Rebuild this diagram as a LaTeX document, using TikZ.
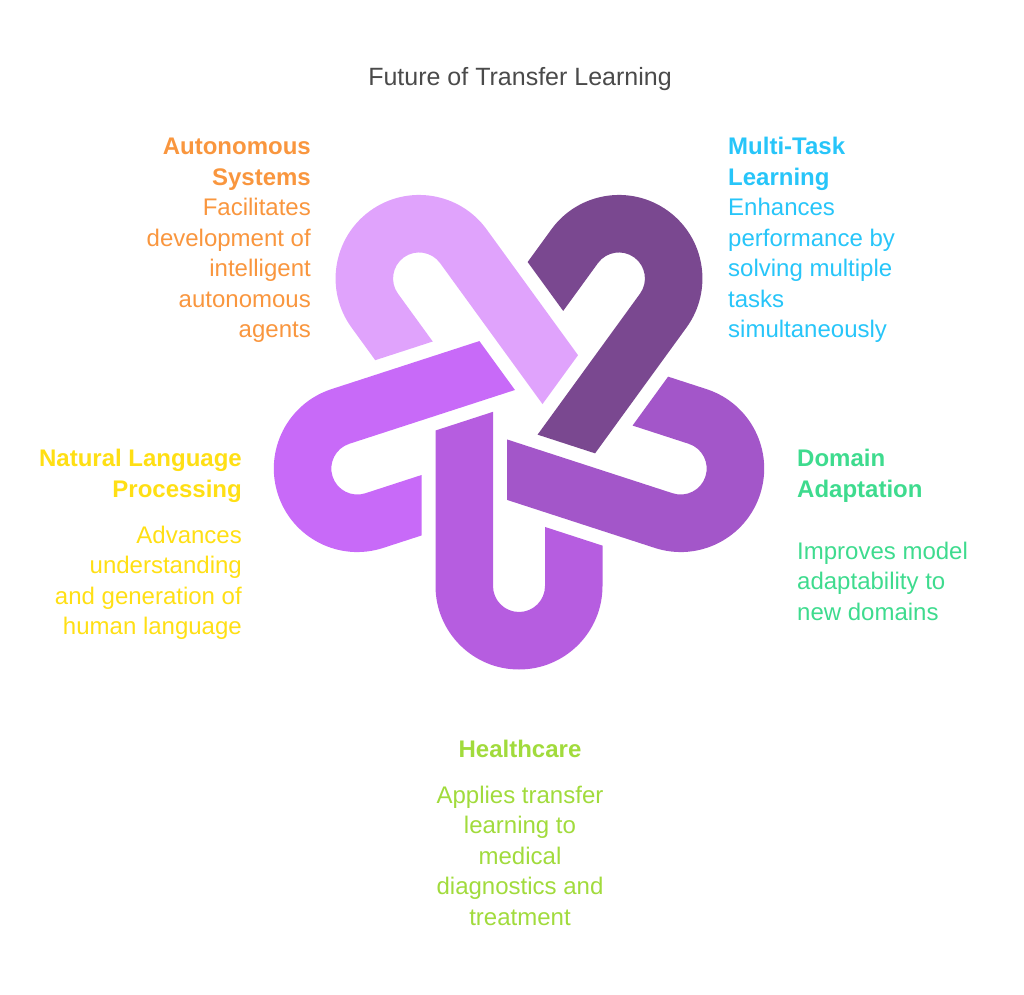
\documentclass[tikz,border=0pt]{standalone}
\usepackage{fontspec}
\setmainfont{Liberation Sans}
\usepackage{tikz}

\definecolor{HookA}{HTML}{B65DE0}
\definecolor{HookB}{HTML}{A356C9}
\definecolor{HookC}{HTML}{7A4890}
\definecolor{HookD}{HTML}{E0A3FC}
\definecolor{HookE}{HTML}{C86AF8}
\definecolor{TitleGray}{HTML}{4A4A4A}
\definecolor{AutoOrange}{HTML}{F9963E}
\definecolor{TaskCyan}{HTML}{27C5F9}
\definecolor{LangYellow}{HTML}{FFDF14}
\definecolor{DomGreen}{HTML}{3EDB8E}
\definecolor{HealthLime}{HTML}{A1DB3C}

\begin{document}
\begin{tikzpicture}[x=1pt,y=1pt]
		\tikzstyle{HeadStyle}=[inner sep=0pt,font=\fontsize{24}{30.5}\selectfont\bfseries]
		\tikzstyle{TextStyle}=[inner sep=0pt,font=\fontsize{24}{30.5}\selectfont]
		\useasboundingbox (0,0) rectangle (1024,994);
		% hook sizes: outer and inner radius, distance from centre, gap
		\def\Ro{83.5}\def\Ri{26}\def\Rd{170}\def\Gap{14}
		\foreach \ang/\col in {0/HookA,72/HookB,144/HookC,216/HookD,288/HookE}
		{
			\begin{scope}[shift={(519,578)},rotate=\ang]
				\fill[\col] ({-\Ro},{(-0.30902*\Ro+\Ri-\Gap)/0.95106})
					-- ({-\Ri},{(-0.30902*\Ri+\Ri-\Gap)/0.95106})
					-- ({-\Ri},{-\Rd}) arc[start angle=180,end angle=360,radius=\Ri]
					-- ({\Ri},{(-\Ro-\Gap-0.30902*\Ri)/0.95106})
					-- ({\Ro},{(-\Ro-\Gap-0.30902*\Ro)/0.95106})
					-- ({\Ro},{-\Rd}) arc[start angle=0,end angle=-180,radius=\Ro]
					-- cycle;
			\end{scope}
		}
		% base anchors sit on the last line of each block
		\node[inner sep=0pt,anchor=base,text=TitleGray,font=\fontsize{25}{30}\selectfont] (title) at (520,908) {Future of Transfer Learning};
		% left side
		\node[HeadStyle,anchor=base east,align=right,text=AutoOrange] (autoHead) at (311,808.5) {Autonomous\\Systems};
		\node[TextStyle,anchor=base east,align=right,text=AutoOrange] (autoText) at (311,656) {Facilitates\\development of\\intelligent\\autonomous\\agents};
		\node[HeadStyle,anchor=base east,align=right,text=LangYellow] (langHead) at (242,496.5) {Natural Language\\Processing};
		\node[TextStyle,anchor=base east,align=right,text=LangYellow] (langText) at (242,359.5) {Advances\\understanding\\and generation of\\human language};
		% right side
		\node[HeadStyle,anchor=base west,align=left,text=TaskCyan] (taskHead) at (728,808.5) {Multi-Task\\Learning};
		\node[TextStyle,anchor=base west,align=left,text=TaskCyan] (taskText) at (728,656) {Enhances\\performance by\\solving multiple\\tasks\\simultaneously};
		\node[HeadStyle,anchor=base west,align=left,text=DomGreen] (domHead) at (797,496.5) {Domain\\Adaptation};
		\node[TextStyle,anchor=base west,align=left,text=DomGreen] (domText) at (797,374) {Improves model\\adaptability to\\new domains};
		% bottom
		\node[HeadStyle,anchor=base,align=center,text=HealthLime] (healthHead) at (520,237) {Healthcare};
		\node[TextStyle,anchor=base,align=center,text=HealthLime] (healthText) at (520,69) {Applies transfer\\learning to\\medical\\diagnostics and\\treatment};
\end{tikzpicture}
\end{document}
